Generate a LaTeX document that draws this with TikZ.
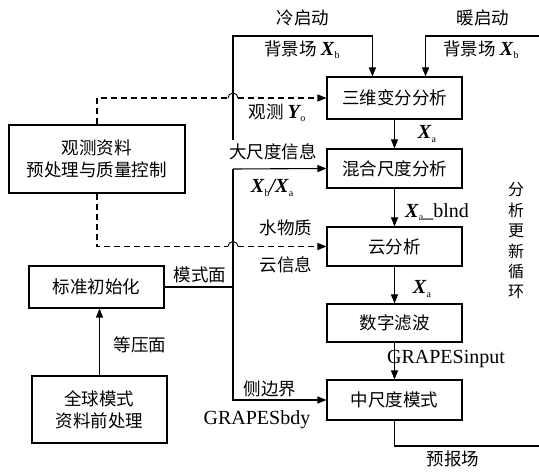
\documentclass[tikz,border=0pt]{standalone}
\usepackage{fontspec}
\setmainfont{Liberation Serif}
\newfontfamily\cjk{Noto Sans CJK SC}
\usetikzlibrary{arrows.meta,calc}
\newcommand\latf{\rmfamily\fontsize{20}{22}\selectfont}
\newcommand\Xv[1]{{\latf\bfseries\itshape X}\kern0.4pt\raisebox{-0.35ex}{\rmfamily\fontsize{10}{10}\selectfont #1}}
\newcommand\Yv[1]{{\latf\bfseries\itshape Y}\kern0.4pt\raisebox{-0.35ex}{\rmfamily\fontsize{10}{10}\selectfont #1}}
\begin{document}
\begin{tikzpicture}[x=1pt,y=-1pt,
  every node/.style={font=\cjk\fontsize{17.5}{20}\selectfont, inner sep=0pt},
  box/.style={draw, line width=1.1pt, minimum width=135pt, align=center},
  conn/.style={line width=1.1pt},
  arr/.style={conn, -{Triangle[length=9pt,width=7pt]}},
  dsh/.style={dash pattern=on 6pt off 4pt},
  hop/.style={conn, line width=0.9pt}
]
\useasboundingbox (0,0) rectangle (539,473);

% boxes
\node[box, minimum height=42pt] (var) at (394.5,98) {三维变分分析};
\node[box, minimum height=39pt] (mix) at (394.5,168.5) {混合尺度分析};
\node[box, minimum height=39pt] (cld) at (394.5,246.5) {云分析};
\node[box, minimum height=38pt] (flt) at (394.5,323) {数字滤波};
\node[box, minimum height=40pt] (mdl) at (394.5,400) {中尺度模式};
\node[box, minimum width=176pt, minimum height=68pt, align=center] (obs) at (97,159) {观测资料\\[2pt]预处理与质量控制};
\node[box, minimum height=42pt] (ini) at (96.5,287) {标准初始化};
\node[box, minimum height=67pt, align=center] (glb) at (99.5,409.5) {全球模式\\[2pt]资料前处理};

% coordinates
\coordinate (cold) at (233,36);
\coordinate (lv1) at (233,140);
\coordinate (lv2) at (233,169);
\coordinate (warm) at (539,36);
\coordinate (fcst) at (539,446);
\coordinate (h1a) at (228,98);
\coordinate (h1b) at (238,98);
\coordinate (h2a) at (228,246.5);
\coordinate (h2b) at (238,246.5);

% connectors
\draw[arr] (lv1) -- (cold) -| ([xshift=46pt]var.north west);
\draw[arr] (warm) -| ([xshift=-37pt]var.north east);
\draw[arr] (var) -- (mix);
\draw[arr] (mix) -- (cld);
\draw[arr] (cld) -- (flt);
\draw[arr] (flt) -- (mdl);
\draw[conn] (mdl.south) |- (fcst);
\draw[arr] (lv2) -- (mix.west);
\draw[arr] (lv2) |- (mdl.west);
\draw[conn] (ini.east) -- (ini.east -| lv2);
\draw[arr] (glb.north) -- (glb.north |- ini.south);
\draw[conn, dsh] (obs.north) |- (h1a);
\draw[hop] (h1a) arc[start angle=180, end angle=0, radius=5pt];
\draw[arr, dsh] (h1b) -- (var.west);
\draw[conn, dsh] (obs.south) |- (h2a);
\draw[hop] (h2a) arc[start angle=180, end angle=0, radius=5pt];
\draw[arr, dsh] (h2b) -- (cld.west);

% labels
\node (lcold) at (303,18) {冷启动};
\node (lwarm) at (483,18) {暖启动};
\node (lbg1) at (302,50) {背景场 \Xv{b}};
\node (lbg2) at (481,50) {背景场 \Xv{b}};
\node (lobs) at (277,113) {观测 \Yv{o}};
\node (lxa1) at (427,134) {\Xv{a}};
\node (llarge) at (273,152) {大尺度信息};
\node (lxbxa) at (272,188) {\Xv{b}{\latf\bfseries\itshape /}\Xv{a}};
\node (lblnd) at (437,212) {\Xv{a}{\latf\_blnd}};
\node (lwater) at (286,228) {水物质};
\node (lcloud) at (286,265) {云信息};
\node (lxa2) at (422,289) {\Xv{a}};
\node (lmode) at (200,275) {模式面};
\node (lpres) at (140,345) {等压面};
\node (lgin) at (446,359) {\latf GRAPESinput};
\node (lside) at (270,389) {侧边界};
\node (lgbdy) at (257,420) {\latf GRAPESbdy};
\node (lfcst) at (453,459) {预报场};
\node[align=center, font=\cjk\fontsize{16}{20.4}\selectfont] (lloop) at (516,241) {分\\析\\更\\新\\循\\环};
\end{tikzpicture}
\end{document}
